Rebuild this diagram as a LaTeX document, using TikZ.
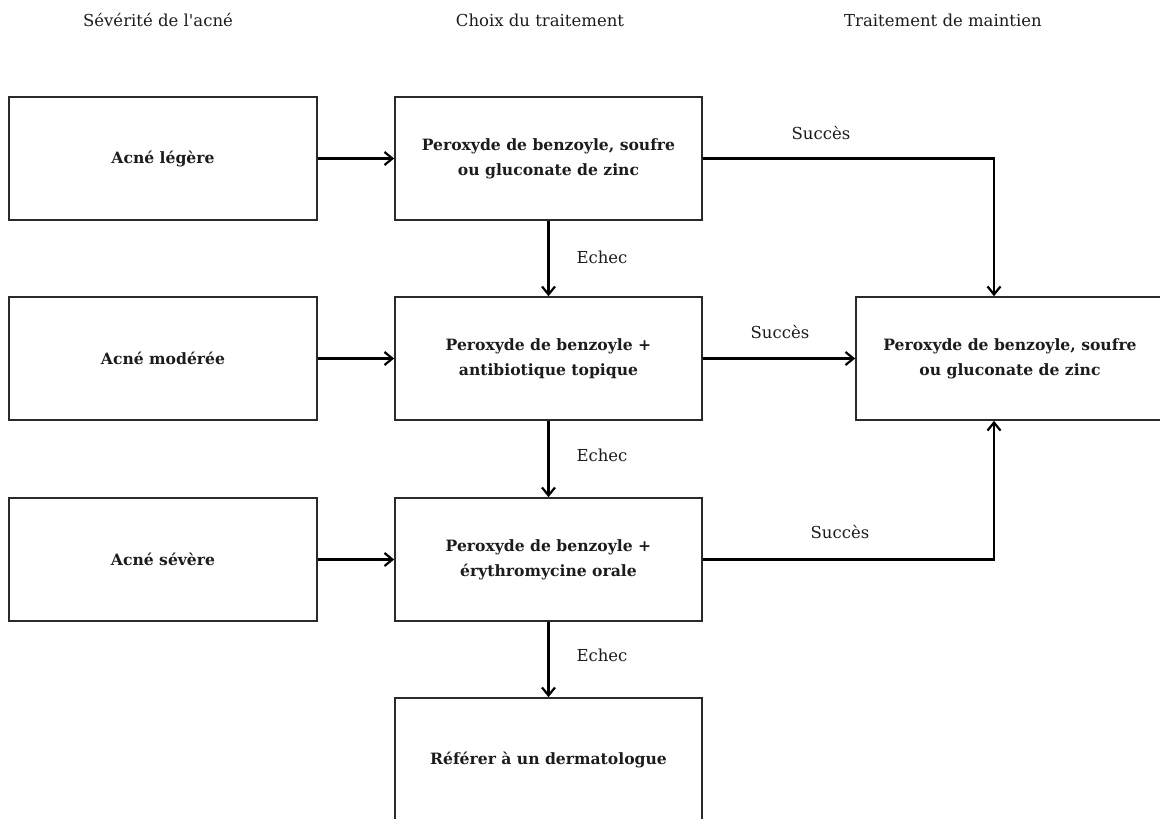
\documentclass[tikz,border=0pt]{standalone}
\usepackage{fontspec}
\setmainfont{DejaVu Serif}
\usetikzlibrary{arrows.meta}
\definecolor{ink}{HTML}{1C1C1C}
\definecolor{edge}{HTML}{2A2A2A}
\begin{document}
\begin{tikzpicture}[x=1pt,y=-1pt,
  box/.style={draw=edge, line width=1.6pt, minimum width=307pt, minimum height=123pt,
    inner sep=0pt, align=center, text=ink, font=\fontsize{15.6}{25}\selectfont\bfseries},
  arr/.style={draw=black, line width=2.6pt, line cap=butt,
    -{Straight Barb[length=8pt,width=13pt,line width=2.2pt]}},
  lbl/.style={inner sep=0pt, text=ink, font=\fontsize{16.5}{18}\selectfont},
  hdr/.style={inner sep=0pt, text=ink, font=\fontsize{16.5}{18}\selectfont}]
\useasboundingbox (0,0) rectangle (1160,819);
% headers
\node[hdr] (h1) at (158,20) {Sévérité de l\textquotesingle acné};
\node[hdr] (h2) at (540,20) {Choix du traitement};
\node[hdr] (h3) at (943,20) {Traitement de maintien};
% boxes
\node[box, minimum width=308pt] (l1) at (163,158.5) {Acné légère};
\node[box, minimum width=308pt] (l2) at (163,358.5) {Acné modérée};
\node[box, minimum width=308pt] (l3) at (163,559.5) {Acné sévère};
\node[box] (m1) at (548.5,158.5) {Peroxyde de benzoyle, soufre\\ou gluconate de zinc};
\node[box] (m2) at (548.5,358.5) {Peroxyde de benzoyle +\\antibiotique topique};
\node[box] (m3) at (548.5,559.5) {Peroxyde de benzoyle +\\érythromycine orale};
\node[box] (m4) at (548.5,759.5) {Référer à un dermatologue};
\node[box, minimum width=308pt] (r) at (1010,358.5) {Peroxyde de benzoyle, soufre\\ou gluconate de zinc};
% horizontal arrows
\draw[arr] (l1.east) -- (m1.west);
\draw[arr] (l2.east) -- (m2.west);
\draw[arr] (l3.east) -- (m3.west);
% failure arrows
\draw[arr] (m1.south) -- (m2.north);
\draw[arr] (m2.south) -- (m3.north);
\draw[arr] (m3.south) -- (m4.north);
\node[lbl] (e1) at (602,257) {Echec};
\node[lbl] (e2) at (602,455) {Echec};
\node[lbl] (e3) at (602,655) {Echec};
% success arrows
\coordinate (c1) at (994,158.5);
\coordinate (c3) at (994,559.5);
\draw[arr, line join=miter] (m1.east) -- (c1) -- (c1 |- r.north);
\draw[arr] (m2.east) -- (r.west);
\draw[arr, line join=miter] (m3.east) -- (c3) -- (c3 |- r.south);
\node[lbl] (s1) at (821,133) {Succès};
\node[lbl] (s2) at (780,332) {Succès};
\node[lbl] (s3) at (840,532) {Succès};
\end{tikzpicture}
\end{document}
